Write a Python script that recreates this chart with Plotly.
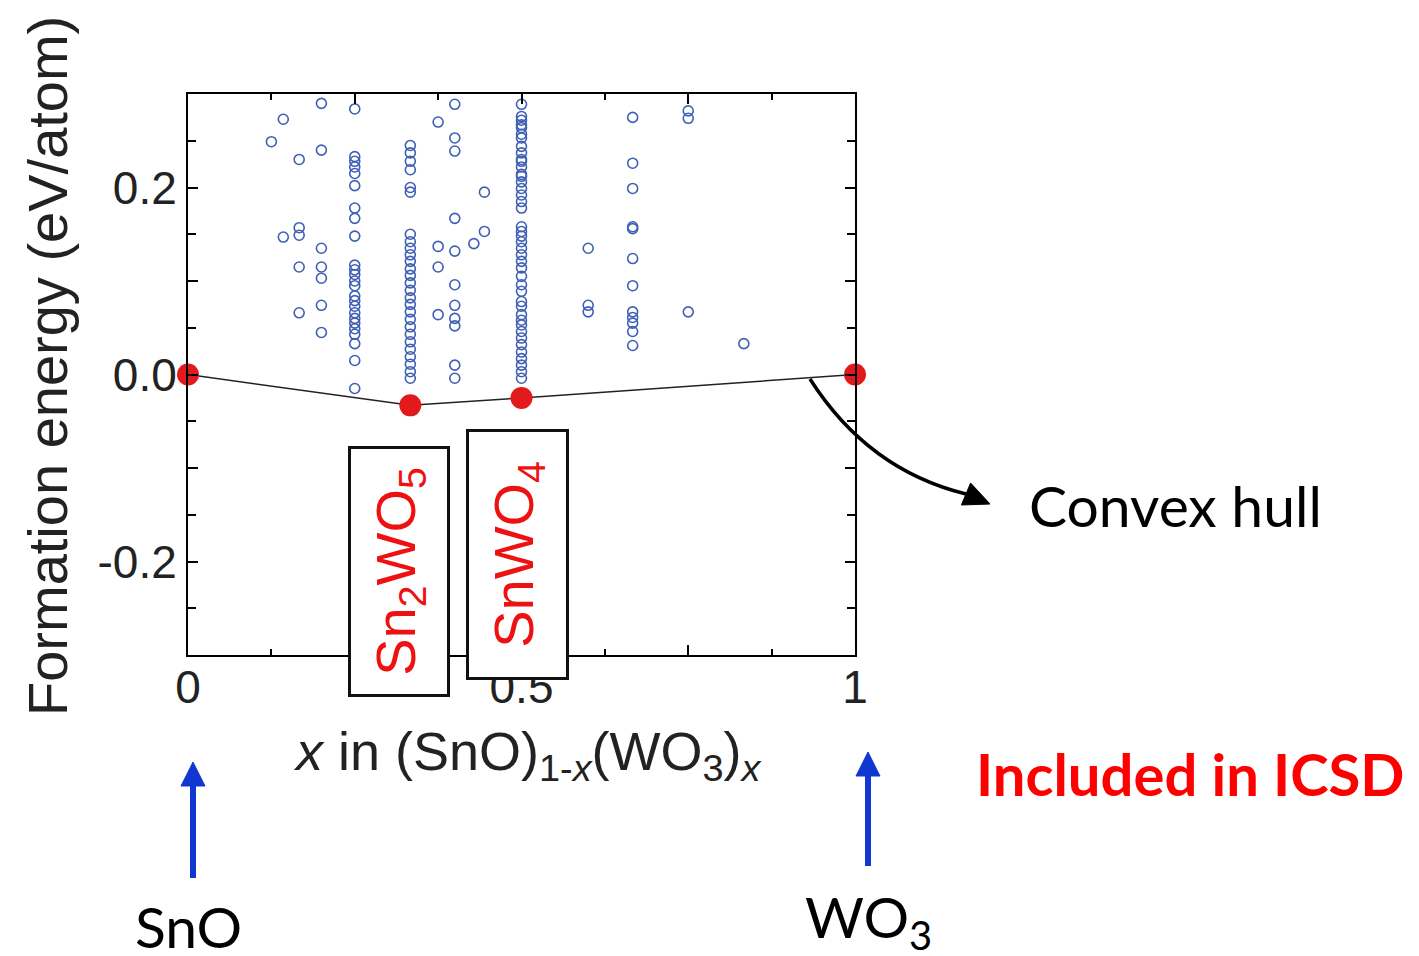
import plotly.graph_objects as go

# ---------------- data ----------------
# compositions x in (SnO)1-x(WO3)x of the calculated structures
comp_0125 = [0.249]
comp_0143 = [0.273, 0.147]
comp_0167 = [0.230, 0.157, 0.149, 0.115, 0.066]
comp_0200 = [0.290, 0.240, 0.135, 0.115, 0.103, 0.074, 0.045]
comp_0250 = [0.284, 0.233, 0.228, 0.222, 0.215, 0.202, 0.178, 0.167, 0.148,
             0.117, 0.112, 0.107, 0.100, 0.095, 0.084, 0.079, 0.073, 0.066,
             0.060, 0.055, 0.049, 0.043, 0.033, 0.015, -0.015]
comp_0333 = [0.245, 0.237, 0.228, 0.219, 0.200, 0.195, 0.150, 0.142, 0.135,
             0.128, 0.121, 0.113, 0.106, 0.098, 0.090, 0.082, 0.075, 0.067,
             0.059, 0.051, 0.043, 0.035, 0.027, 0.019, 0.011, 0.003, -0.004]
comp_0375 = [0.270, 0.137, 0.115, 0.064]
comp_0400 = [0.289, 0.253, 0.239, 0.167, 0.132, 0.096, 0.074, 0.060, 0.052,
             0.010, -0.004]
comp_0429 = [0.140]
comp_0444 = [0.195, 0.153]
comp_0500 = [0.289, 0.276, 0.272, 0.267, 0.264, 0.257, 0.253, 0.244, 0.237,
             0.230, 0.228, 0.222, 0.214, 0.212, 0.206, 0.199, 0.192, 0.185,
             0.178, 0.158, 0.153, 0.148, 0.142, 0.135, 0.128, 0.121, 0.114,
             0.105, 0.096, 0.089, 0.078, 0.073, 0.064, 0.058, 0.053, 0.046,
             0.039, 0.032, 0.024, 0.017, 0.010, 0.003, -0.004]
comp_0600 = [0.135, 0.074, 0.067]
comp_0667 = [0.275, 0.226, 0.199, 0.158, 0.156, 0.124, 0.095, 0.067, 0.061,
             0.055, 0.046, 0.031]
comp_0750 = [0.282, 0.274, 0.067]
comp_0833 = [0.033]

columns = [
    (0.125, comp_0125), (1/7, comp_0143), (1/6, comp_0167), (0.2, comp_0200),
    (0.25, comp_0250), (1/3, comp_0333), (0.375, comp_0375), (0.4, comp_0400),
    (3/7, comp_0429), (4/9, comp_0444), (0.5, comp_0500), (0.6, comp_0600),
    (2/3, comp_0667), (0.75, comp_0750), (5/6, comp_0833),
]

hull_x = [0.0, 1/3, 0.5, 1.0]
hull_y = [0.0, -0.033, -0.025, 0.0]

# ---------------- layout geometry ----------------
W, H = 1419, 956
ML, MR, MT, MB = 188, 564, 94, 301
PW, PH = W - ML - MR, H - MT - MB


def px(x):
    return (x - ML) / PW


def py(y):
    return (H - MB - y) / PH


sx, sy = [], []
for xc, vals in columns:
    for v in vals:
        sx.append(xc)
        sy.append(v)

fig = go.Figure()
fig.add_trace(go.Scatter(
    x=sx, y=sy, mode="markers",
    marker=dict(symbol="circle-open", size=10, color="#3f5fb5",
                line=dict(width=1.6, color="#3f5fb5")),
    showlegend=False, hoverinfo="skip"))
fig.add_trace(go.Scatter(
    x=hull_x, y=hull_y, mode="lines+markers",
    line=dict(color="#222222", width=1.5),
    marker=dict(size=22, color="#e31a1c"),
    cliponaxis=False, showlegend=False))

tickfont = dict(family="Liberation Sans, Arial, sans-serif", size=46, color="#222222")
axis_common = dict(showline=True, linecolor="black", linewidth=2, mirror="ticks",
                   ticks="inside", ticklen=10, tickwidth=2, tickcolor="black",
                   showgrid=False, zeroline=False, tickfont=tickfont)

fig.update_layout(
    width=W, height=H,
    margin=dict(l=ML, r=MR, t=MT, b=MB, pad=0),
    paper_bgcolor="white", plot_bgcolor="white",
    xaxis=dict(range=[0, 1], tickvals=[0, 0.25, 0.5, 0.75, 1],
               ticktext=["0", "", "0.5", "", "1"], ticklabelstandoff=-9,
               minor=dict(tickvals=[0.125, 0.375, 0.625, 0.875], ticks="inside",
                          ticklen=6, tickwidth=1.5, tickcolor="black"),
               **axis_common),
    yaxis=dict(range=[-0.3, 0.3], tickvals=[-0.2, -0.1, 0, 0.1, 0.2],
               ticktext=["-0.2", "", "0.0", "", "0.2"],
               minor=dict(dtick=0.05, ticks="inside", ticklen=8, tickwidth=1.5,
                          tickcolor="black"),
               **axis_common),
)

ann = []
# axis titles
ann.append(dict(xref="paper", yref="paper", x=px(47), y=py(366), showarrow=False,
                text="Formation energy (eV/atom)", textangle=-90,
                font=dict(family="Liberation Sans, Arial, sans-serif", size=56, color="#222222"),
                xanchor="center", yanchor="middle"))
ann.append(dict(xref="paper", yref="paper", x=px(527), y=py(755), showarrow=False,
                text="<i>x</i> in (SnO)<sub>1-<i>x</i></sub>(WO<sub>3</sub>)<sub><i>x</i></sub>",
                font=dict(family="Liberation Sans, Arial, sans-serif", size=54, color="#222222"),
                xanchor="center", yanchor="middle"))
# compound boxes
ann.append(dict(xref="paper", yref="paper", x=px(399), y=py(572), showarrow=False,
                text="Sn<sub>2</sub>WO<sub>5</sub>", textangle=-90,
                width=245, height=96, bgcolor="white", bordercolor="#111111",
                borderwidth=3, borderpad=0,
                font=dict(family="Liberation Sans, Arial, sans-serif", size=56, color="#ee1111"),
                xanchor="center", yanchor="middle"))
ann.append(dict(xref="paper", yref="paper", x=px(517), y=py(555), showarrow=False,
                text="SnWO<sub>4</sub>", textangle=-90,
                width=245, height=97, bgcolor="white", bordercolor="#111111",
                borderwidth=3, borderpad=0,
                font=dict(family="Liberation Sans, Arial, sans-serif", size=56, color="#ee1111"),
                xanchor="center", yanchor="middle"))
# side labels
lab_font = dict(family="Lato, Open Sans, sans-serif", size=57, color="black")
ann.append(dict(xref="paper", yref="paper", x=px(1027), y=py(505), showarrow=False,
                text="Convex hull", font=lab_font, xanchor="left", yanchor="middle"))
ann.append(dict(xref="paper", yref="paper", x=px(974), y=py(773), showarrow=False,
                text="<b>Included in ICSD</b>",
                font=dict(family="Lato, Open Sans, sans-serif", size=58, color="#ff0000"),
                xanchor="left", yanchor="middle"))
ann.append(dict(xref="paper", yref="paper", x=px(188), y=py(926), showarrow=False,
                text="SnO", font=lab_font, xanchor="center", yanchor="middle"))
ann.append(dict(xref="paper", yref="paper", x=px(868), y=py(920), showarrow=False,
                text="WO<sub>3</sub>", font=lab_font, xanchor="center", yanchor="middle"))
fig.update_layout(annotations=ann)


def pt(x, y):
    return f"{px(x):.5f},{py(y):.5f}"


shapes = []
# curved convex hull arrow
shapes.append(dict(type="path", xref="paper", yref="paper",
                   path=f"M {pt(810, 379)} Q {pt(868, 470)} {pt(966, 494)}",
                   line=dict(color="black", width=3.5)))
shapes.append(dict(type="path", xref="paper", yref="paper",
                   path=f"M {pt(990, 504)} L {pt(970.6, 483)} L {pt(961.4, 505)} Z",
                   fillcolor="black", line=dict(color="black", width=1)))
# blue arrows
for ax, ybot, ytip in [(193, 878, 762), (868, 866, 752)]:
    shapes.append(dict(type="line", xref="paper", yref="paper",
                       x0=px(ax), x1=px(ax), y0=py(ybot), y1=py(ytip + 20),
                       line=dict(color="#1038d0", width=6)))
    shapes.append(dict(type="path", xref="paper", yref="paper",
                       path=f"M {pt(ax, ytip)} L {pt(ax - 12, ytip + 24)} L {pt(ax + 12, ytip + 24)} Z",
                       fillcolor="#1038d0", line=dict(color="#1038d0", width=1)))
fig.update_layout(shapes=shapes)

fig.write_html("out.html")
